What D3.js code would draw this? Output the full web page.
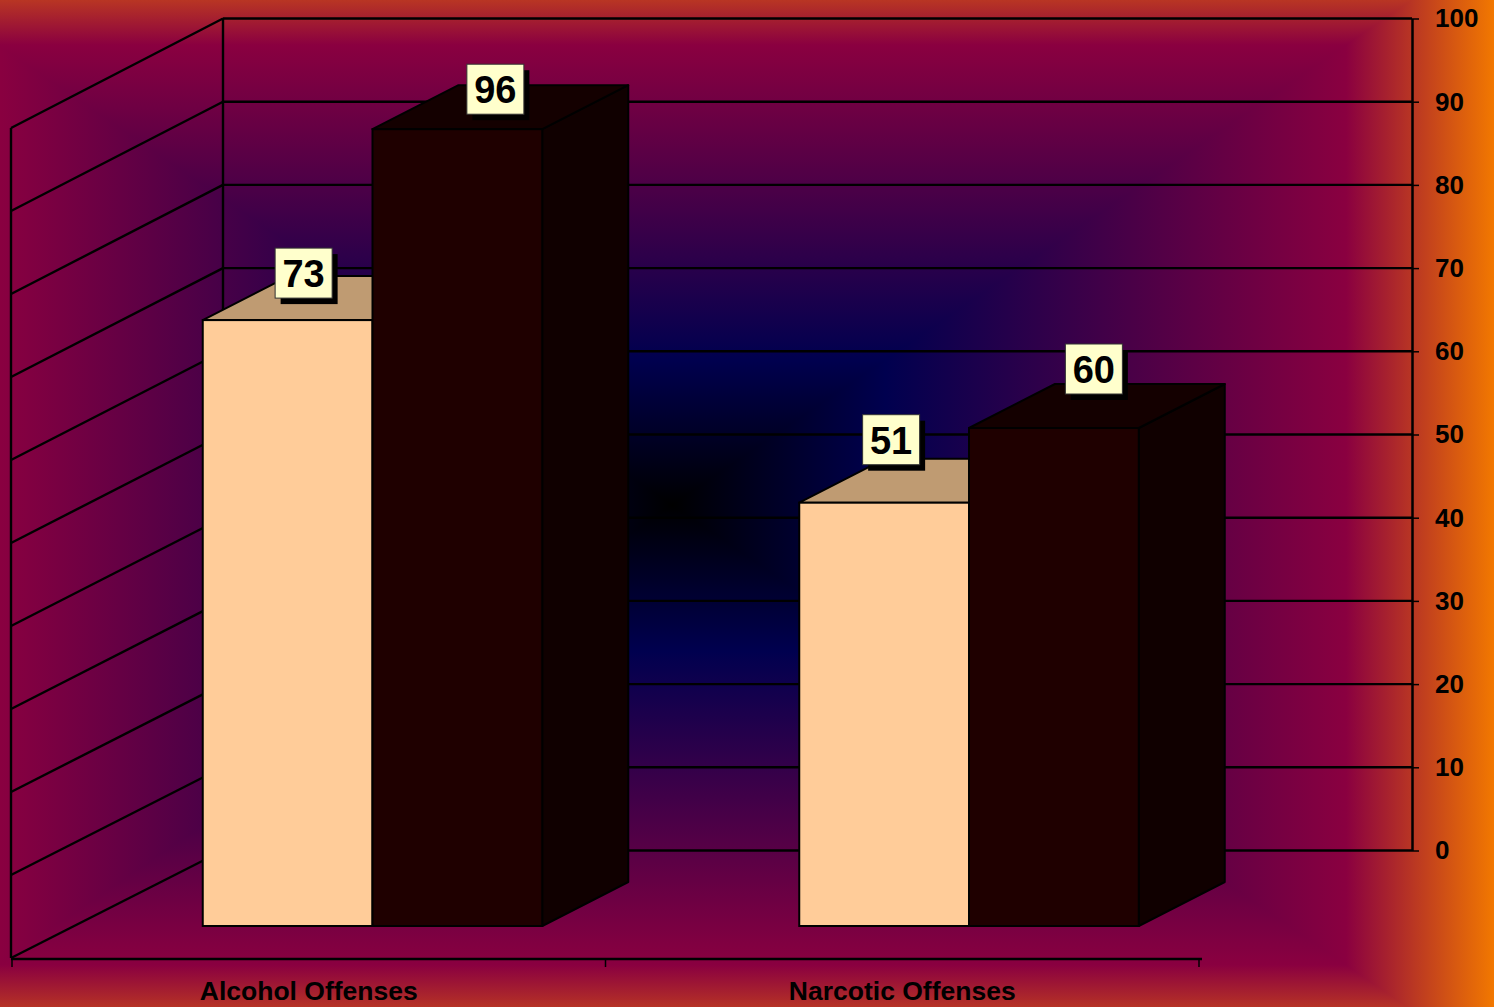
<!DOCTYPE html>
<html>
<head>
    <meta charset="utf-8">
    <script src="https://d3js.org/d3.v7.min.js"></script>
    <style>
        html, body { margin: 0; padding: 0; background: #880040; overflow: hidden; }
        svg { display: block; }
        text { font-family: "Liberation Sans", Arial, sans-serif; font-weight: bold; fill: #000; }
        .gridline { stroke: #000; stroke-width: 2.4px; fill: none; }
        .axis path, .axis line { stroke: #000; }
        .axis text { font-size: 26px; font-family: "Liberation Sans", Arial, sans-serif; font-weight: bold; }
        .catAxis text { font-size: 26.5px; }
    </style>
</head>
<body>
    <svg id="chart" width="1494" height="1007"></svg>

    <script>
        // values
        const categories = ["Alcohol Offenses", "Narcotic Offenses"];
        const seriesNames = ["A", "B"];
        const seriesA = [73, 51];
        const seriesB = [96, 60];
        const tickValues = [0, 10, 20, 30, 40, 50, 60, 70, 80, 90, 100];

        // the data labels were dragged around by hand in the original
        const labelNudgeA = [[16, -47], [7, -63]];
        const labelNudgeB = [[38, -40], [40, -59]];

        const gradientStops = [
            [0, "#000000"], [0.26, "#00004f"], [0.82, "#8a0040"], [1, "#f27800"]
        ];

        const svg = d3.select("#chart");
        const defs = svg.append("defs");

        // rectangular "from centre" background, one triangle per side
        const cx = 672, cy = 505, H = 822, V = 561;
        const over = 1.2; // triangles run past the page, the gradient just pads
        const sides = [
            { id: "bgTop", pts: [[cx - H * over, cy - V * over], [cx + H * over, cy - V * over]], end: [cx, cy - V] },
            { id: "bgBottom", pts: [[cx - H * over, cy + V * over], [cx + H * over, cy + V * over]], end: [cx, cy + V] },
            { id: "bgLeft", pts: [[cx - H * over, cy - V * over], [cx - H * over, cy + V * over]], end: [cx - H, cy] },
            { id: "bgRight", pts: [[cx + H * over, cy - V * over], [cx + H * over, cy + V * over]], end: [cx + H, cy] }
        ];
        sides.forEach(s => {
            const grad = defs.append("linearGradient")
                .attr("id", s.id)
                .attr("gradientUnits", "userSpaceOnUse")
                .attr("x1", cx).attr("y1", cy)
                .attr("x2", s.end[0]).attr("y2", s.end[1]);
            grad.selectAll("stop").data(gradientStops).join("stop")
                .attr("offset", d => d[0])
                .attr("stop-color", d => d[1]);
            svg.append("polygon")
                .attr("points", [[cx, cy], ...s.pts].join(" "))
                .attr("fill", `url(#${s.id})`)
                .attr("shape-rendering", "crispEdges");
        });

        // back wall, front edge of the side wall and the bar plane each have their own scale
        const yBack = d3.scaleLinear().domain([0, 100]).range([850.5, 18.5]);
        const ySide = d3.scaleLinear().domain([0, 100]).range([958, 128]);
        const yBar = d3.scaleLinear().domain([0, 100]).range([926, 96]);
        const wallLeft = 223, wallRight = 1412, sideLeft = 11;
        const floorY = 959;
        const barDepth = { dx: 86, dy: -44 };
        const barPairWidth = 339.5;

        const xCat = d3.scaleBand().domain(categories).range([12, 1199]);
        const xBarGroup = d3.scaleBand().domain(categories).range([74.25, 1267.25]);

        // walls
        const walls = svg.append("g");
        walls.selectAll("line.back").data(tickValues).join("line")
            .attr("class", "gridline back")
            .attr("x1", wallLeft).attr("x2", wallRight)
            .attr("y1", d => yBack(d)).attr("y2", d => yBack(d));
        walls.selectAll("line.side").data(tickValues).join("line")
            .attr("class", "gridline side")
            .attr("x1", wallLeft).attr("x2", sideLeft)
            .attr("y1", d => yBack(d)).attr("y2", d => ySide(d));
        walls.append("line").attr("class", "gridline")
            .attr("x1", wallLeft).attr("x2", wallLeft)
            .attr("y1", yBack(0)).attr("y2", yBack(100));
        walls.append("line").attr("class", "gridline")
            .attr("x1", sideLeft).attr("x2", sideLeft)
            .attr("y1", ySide(0)).attr("y2", ySide(100));

        // right value axis
        const yAxis = d3.axisRight(yBack).tickValues(tickValues).tickSize(7).tickSizeOuter(0).tickPadding(16);
        const yAxisG = svg.append("g").attr("class", "axis")
            .attr("transform", `translate(${wallRight},0)`)
            .call(yAxis);
        yAxisG.select(".domain").attr("stroke-width", 2.5);
        yAxisG.selectAll("line").attr("stroke-width", 1.5);

        // bottom category axis
        const xAxis = d3.axisBottom(xCat).tickSize(0).tickPadding(22);
        const xAxisG = svg.append("g").attr("class", "axis catAxis")
            .attr("transform", `translate(0,${floorY})`)
            .call(xAxis);
        xAxisG.select(".domain").remove();
        svg.append("line").attr("class", "gridline")
            .attr("x1", sideLeft).attr("x2", 1202)
            .attr("y1", floorY).attr("y2", floorY);
        const catEdges = [...categories.map(c => xCat(c)), xCat(categories[1]) + xCat.bandwidth()];
        svg.selectAll("line.catTick").data(catEdges).join("line")
            .attr("class", "catTick")
            .attr("stroke", "#000").attr("stroke-width", 1.5)
            .attr("x1", d => d).attr("x2", d => d)
            .attr("y1", floorY).attr("y2", floorY + 8);

        // bars
        const barColors = {
            A: { front: "#ffcc99", top: "#bf9b72", side: "#bf9b72", stroke: "#000" },
            B: { front: "#1f0000", top: "#140000", side: "#100000", stroke: "#000" }
        };
        const barData = [];
        categories.forEach((c, i) => {
            barData.push({ cat: c, series: "A", value: seriesA[i], nudge: labelNudgeA[i] });
            barData.push({ cat: c, series: "B", value: seriesB[i], nudge: labelNudgeB[i] });
        });

        const xBar = d => {
            const centre = xBarGroup(d.cat) + xBarGroup.bandwidth() / 2;
            return d3.scaleBand().domain(seriesNames)
                .range([centre - barPairWidth / 2, centre + barPairWidth / 2]);
        };

        const bars = svg.selectAll("g.bar").data(barData).join("g").attr("class", "bar");
        bars.each(function (d) {
            const g = d3.select(this);
            const scale = xBar(d);
            const x0 = scale(d.series), x1 = x0 + scale.bandwidth();
            const yt = yBar(d.value), yb = yBar(0);
            const col = barColors[d.series];
            const dx = barDepth.dx, dy = barDepth.dy;
            g.append("polygon")
                .attr("points", [[x1, yt], [x1 + dx, yt + dy], [x1 + dx, yb + dy], [x1, yb]].join(" "))
                .attr("fill", col.side).attr("stroke", col.stroke).attr("stroke-width", 2)
                .attr("stroke-linejoin", "round");
            g.append("polygon")
                .attr("points", [[x0, yt], [x0 + dx, yt + dy], [x1 + dx, yt + dy], [x1, yt]].join(" "))
                .attr("fill", col.top).attr("stroke", col.stroke).attr("stroke-width", 2)
                .attr("stroke-linejoin", "round");
            g.append("rect")
                .attr("x", x0).attr("y", yt)
                .attr("width", x1 - x0).attr("height", yb - yt)
                .attr("fill", col.front).attr("stroke", col.stroke).attr("stroke-width", 2);
        });

        // data labels sit above every bar
        const boxW = 57, boxH = 50;
        const labels = svg.selectAll("g.dataLabel").data(barData).join("g")
            .attr("class", "dataLabel")
            .attr("transform", d => {
                const scale = xBar(d);
                const c = scale(d.series) + scale.bandwidth() / 2 + d.nudge[0];
                return `translate(${c},${yBar(d.value) + d.nudge[1]})`;
            });
        labels.append("rect")
            .attr("x", -boxW / 2 + 5.5).attr("y", -boxH / 2 + 6)
            .attr("width", boxW).attr("height", boxH)
            .attr("fill", "#000");
        labels.append("rect")
            .attr("x", -boxW / 2).attr("y", -boxH / 2)
            .attr("width", boxW).attr("height", boxH)
            .attr("fill", "#ffffcc").attr("stroke", "#333").attr("stroke-width", 1);
        labels.append("text")
            .attr("text-anchor", "middle")
            .attr("y", 14)
            .style("font-size", "38px")
            .text(d => d.value);
    </script>
</body>
</html>
